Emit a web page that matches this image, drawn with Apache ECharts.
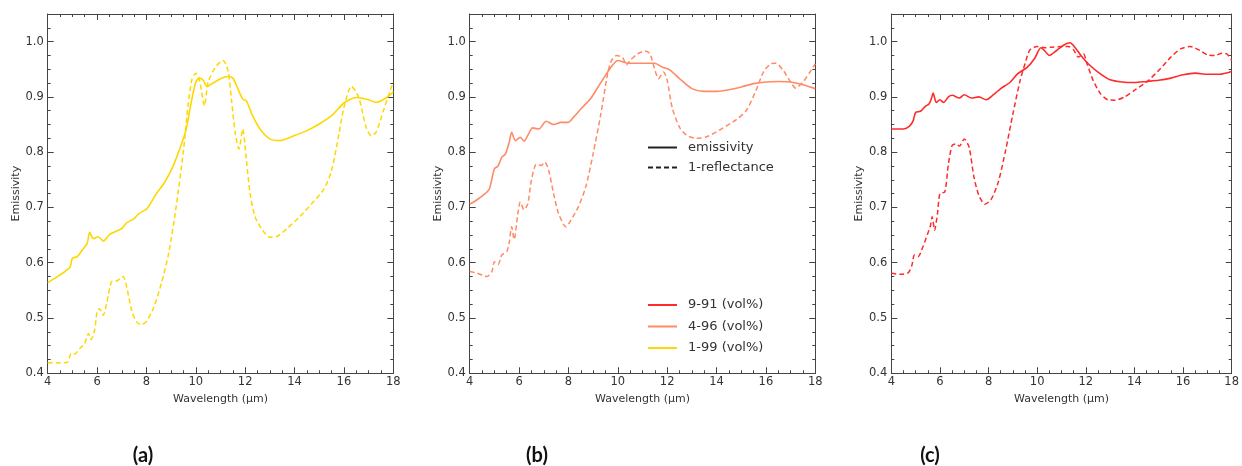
<!DOCTYPE html>
<html>
<head>
<meta charset="utf-8">
<script src="https://cdn.jsdelivr.net/npm/echarts@6/dist/echarts.min.js"></script>
<style>html,body{margin:0;padding:0;background:#fff}#c{width:1242px;height:466px}</style>
</head>
<body>
<div id="c"></div>
<script>
// ---------- DATA ----------
const panelLabels = ['(a)', '(b)', '(c)'];
const seriesNames = ['1-99 (vol%)', '4-96 (vol%)', '9-91 (vol%)'];
const legendStyleNames = ['emissivity', '1-reflectance'];
const xTickLabels = [4, 6, 8, 10, 12, 14, 16, 18];
const yTickLabels = [0.4, 0.5, 0.6, 0.7, 0.8, 0.9, 1.0];

// Panel (a) 1-99 vol%
const aEmisX = [4,4.5,4.9,5.0,5.2,5.4,5.6,5.7,5.85,6.05,6.25,6.5,7,7.2,7.5,7.7,8,8.2,8.4,8.7,9,9.3,9.6,9.8,10.0,10.15,10.3,10.45,10.7,11,11.3,11.5,11.7,11.9,12.05,12.3,12.6,13,13.4,14,14.5,15,15.5,16,16.5,17,17.3,17.7,18];
const aEmisY = [0.564,0.578,0.592,0.608,0.611,0.623,0.635,0.655,0.644,0.647,0.639,0.651,0.662,0.672,0.680,0.689,0.697,0.710,0.725,0.743,0.767,0.800,0.840,0.887,0.927,0.934,0.930,0.919,0.925,0.933,0.937,0.934,0.915,0.896,0.893,0.866,0.842,0.824,0.821,0.830,0.839,0.851,0.866,0.889,0.899,0.895,0.890,0.898,0.909];
const aReflX = [4,4.4,4.8,4.95,5.1,5.3,5.5,5.65,5.75,5.9,6.0,6.1,6.25,6.4,6.6,6.8,7.05,7.2,7.4,7.6,7.8,8.0,8.3,8.6,8.9,9.2,9.5,9.7,9.85,10.0,10.15,10.35,10.5,10.8,11.1,11.3,11.45,11.6,11.75,11.9,12.05,12.2,12.4,12.7,13.0,13.3,13.7,14.2,14.7,15.2,15.5,15.8,16.0,16.3,16.6,16.9,17.1,17.3,17.6,17.9,18];
const aReflY = [0.419,0.419,0.420,0.436,0.435,0.445,0.454,0.472,0.461,0.478,0.511,0.517,0.505,0.529,0.566,0.567,0.575,0.556,0.514,0.493,0.488,0.494,0.520,0.562,0.617,0.700,0.803,0.890,0.933,0.943,0.930,0.884,0.927,0.954,0.966,0.948,0.893,0.833,0.806,0.842,0.785,0.725,0.683,0.659,0.646,0.648,0.662,0.683,0.707,0.734,0.767,0.833,0.881,0.919,0.899,0.845,0.830,0.836,0.875,0.915,0.927];

// Panel (b) 4-96 vol%
const bEmisX = [4,4.3,4.6,4.8,5.0,5.15,5.3,5.45,5.6,5.7,5.85,6.05,6.2,6.35,6.55,6.8,7.1,7.4,7.7,8.0,8.2,8.5,8.9,9.2,9.5,9.8,10.0,10.4,11.0,11.5,11.8,12.1,12.5,13.0,13.5,14,14.5,15,15.5,16,16.5,17,17.5,18];
const bEmisY = [0.706,0.714,0.724,0.734,0.770,0.775,0.791,0.797,0.818,0.836,0.821,0.827,0.820,0.830,0.844,0.842,0.856,0.850,0.854,0.854,0.863,0.878,0.897,0.918,0.939,0.958,0.966,0.961,0.961,0.961,0.954,0.949,0.933,0.915,0.910,0.910,0.913,0.918,0.924,0.927,0.928,0.927,0.922,0.915];
const bReflX = [4,4.3,4.7,4.9,5.0,5.15,5.3,5.5,5.6,5.7,5.8,5.95,6.05,6.2,6.35,6.5,6.7,6.9,7.05,7.2,7.4,7.6,7.9,8.1,8.4,8.7,9.0,9.3,9.6,9.75,9.95,10.2,10.35,10.5,10.8,11.1,11.3,11.45,11.65,11.85,12.0,12.2,12.5,12.8,13.2,13.6,14.2,14.8,15.2,15.6,15.9,16.2,16.4,16.7,17.0,17.2,17.5,17.8,18];
const bReflY = [0.584,0.581,0.575,0.584,0.602,0.597,0.614,0.620,0.636,0.665,0.642,0.689,0.710,0.696,0.706,0.749,0.778,0.776,0.782,0.767,0.725,0.689,0.665,0.677,0.701,0.737,0.797,0.866,0.945,0.966,0.975,0.971,0.958,0.966,0.978,0.983,0.978,0.957,0.933,0.945,0.930,0.881,0.845,0.830,0.825,0.828,0.842,0.859,0.875,0.912,0.945,0.960,0.961,0.948,0.927,0.916,0.927,0.946,0.960];

// Panel (c) 9-91 vol%
const cEmisX = [4,4.5,4.75,4.9,5.0,5.2,5.4,5.55,5.65,5.72,5.85,6.0,6.15,6.35,6.5,6.8,7.0,7.3,7.6,7.9,8.2,8.5,8.9,9.2,9.6,9.9,10.15,10.3,10.5,10.8,11.1,11.35,11.55,11.8,12.1,12.5,13,13.5,14,14.5,15,15.5,16,16.5,17,17.5,18];
const cEmisY = [0.842,0.842,0.847,0.857,0.872,0.874,0.883,0.887,0.897,0.907,0.890,0.895,0.890,0.900,0.903,0.898,0.904,0.898,0.900,0.895,0.904,0.915,0.927,0.942,0.954,0.970,0.989,0.984,0.975,0.984,0.994,0.998,0.990,0.975,0.960,0.945,0.931,0.927,0.926,0.928,0.930,0.934,0.940,0.943,0.941,0.941,0.946];
const cReflX = [4,4.4,4.7,4.85,4.95,5.1,5.3,5.5,5.6,5.68,5.78,5.9,6.0,6.2,6.35,6.5,6.65,6.8,7.0,7.2,7.4,7.6,7.85,8.1,8.4,8.7,9.0,9.3,9.5,9.7,10.0,10.3,10.6,11.0,11.3,11.5,11.7,11.9,12.05,12.3,12.6,12.9,13.2,13.6,14.0,14.5,15,15.5,15.9,16.3,16.7,17.0,17.3,17.6,17.8,18];
const cReflY = [0.581,0.579,0.582,0.596,0.614,0.611,0.629,0.653,0.665,0.683,0.659,0.689,0.725,0.728,0.779,0.812,0.815,0.811,0.824,0.809,0.755,0.722,0.706,0.714,0.746,0.803,0.869,0.930,0.960,0.985,0.991,0.989,0.990,0.991,0.991,0.985,0.972,0.978,0.960,0.930,0.906,0.895,0.894,0.900,0.912,0.927,0.948,0.972,0.987,0.991,0.984,0.976,0.975,0.979,0.978,0.966];

const colors = ['#FFD700', '#FF8A66', '#FF2A2A'];

// ---------- BUILD ----------
const zip = (xs, ys) => xs.map((x, i) => [x, ys[i]]);
const panels = [
  {emis: zip(aEmisX, aEmisY), refl: zip(aReflX, aReflY)},
  {emis: zip(bEmisX, bEmisY), refl: zip(bReflX, bReflY)},
  {emis: zip(cEmisX, cEmisY), refl: zip(cReflX, cReflY)}
];
const gridLefts = [47.7, 469.7, 891.3];
const gridWidths = [345.6, 345.6, 346];
const FONT = 'DejaVu Sans';
const AX = '#444';

const grid = [], xAxis = [], yAxis = [], series = [];
panels.forEach((p, i) => {
  grid.push({left: gridLefts[i], top: 14, width: gridWidths[i], height: 359.3, containLabel: false});
  const xBase = {gridIndex: i, type: 'value', min: xTickLabels[0], max: xTickLabels[xTickLabels.length - 1], interval: 2,
    axisLine: {show: true, lineStyle: {color: AX, width: 1}},
    axisTick: {show: true, inside: true, length: 6, lineStyle: {color: AX}},
    minorTick: {show: true, splitNumber: 4, length: 3, lineStyle: {color: AX}},
    splitLine: {show: false}};
  xAxis.push(Object.assign({}, xBase, {position: 'bottom',
    name: 'Wavelength (µm)', nameLocation: 'middle', nameGap: 16,
    nameTextStyle: {fontFamily: FONT, fontSize: 11, color: '#333'},
    axisLabel: {show: true, margin: 3, fontFamily: FONT, fontSize: 11.5, color: '#333'}}));
  xAxis.push(Object.assign({}, xBase, {position: 'top', axisLabel: {show: false}}));
  const yMain = {gridIndex: i, type: 'value', min: yTickLabels[0], max: 1.05, interval: 0.1,
    axisLine: {show: true, lineStyle: {color: AX, width: 1}},
    axisTick: {show: true, inside: true, length: 6, lineStyle: {color: AX}},
    splitLine: {show: false}};
  const yMinor = {gridIndex: i, type: 'value', min: yTickLabels[0], max: 1.05, interval: 0.025,
    axisLine: {show: false},
    axisTick: {show: true, inside: true, length: 3, lineStyle: {color: AX}},
    axisLabel: {show: false}, splitLine: {show: false}};
  yAxis.push(Object.assign({}, yMain, {position: 'left',
    name: 'Emissivity', nameLocation: 'middle', nameGap: 26, nameRotate: 90,
    nameTextStyle: {fontFamily: FONT, fontSize: 11, color: '#333'},
    axisLabel: {show: true, margin: 4, fontFamily: FONT, fontSize: 11.5, color: '#333', showMaxLabel: false,
      formatter: v => v.toFixed(1)}}));
  yAxis.push(Object.assign({}, yMinor, {position: 'left'}));
  yAxis.push(Object.assign({}, yMain, {position: 'right', axisLabel: {show: false}}));
  yAxis.push(Object.assign({}, yMinor, {position: 'right'}));

  series.push({name: seriesNames[i], type: 'line', xAxisIndex: i * 2, yAxisIndex: i * 4,
    data: p.emis, showSymbol: false, symbol: 'none', smooth: 0.25, color: colors[i],
    lineStyle: {width: 1.6, color: colors[i]}, z: 3});
  series.push({name: seriesNames[i], type: 'line', xAxisIndex: i * 2, yAxisIndex: i * 4,
    data: p.refl, showSymbol: false, symbol: 'none', smooth: 0.25, color: colors[i],
    lineStyle: {width: 1.5, color: colors[i], type: [5, 3]}, z: 3});
});
// legend style entries (no data)
series.push({name: legendStyleNames[0], type: 'line', xAxisIndex: 2, yAxisIndex: 4, data: [], symbol: 'none',
  color: '#222', lineStyle: {width: 1.8, color: '#222'}});
series.push({name: legendStyleNames[1], type: 'line', xAxisIndex: 2, yAxisIndex: 4, data: [], symbol: 'none',
  color: '#222', lineStyle: {width: 1.5, color: '#222', type: [5, 3]}});

const legendText = {fontFamily: FONT, fontSize: 13, color: '#333', padding: [0, 0, 0, 6]};
const legendItem = {opacity: 0, color: 'transparent', borderWidth: 0};
const option = {
  animation: false,
  backgroundColor: '#fff',
  grid, xAxis, yAxis, series,
  legend: [
    {data: legendStyleNames, orient: 'vertical', left: 647, top: 141, padding: 0, itemWidth: 29, itemHeight: 14, itemGap: 7,
     selectedMode: false, textStyle: legendText, itemStyle: legendItem},
    {data: [seriesNames[2], seriesNames[1], seriesNames[0]], orient: 'vertical', left: 647, top: 298.5, padding: 0,
     itemWidth: 29, itemHeight: 14, itemGap: 8.5, selectedMode: false, textStyle: legendText, itemStyle: legendItem}
  ],
  graphic: panelLabels.map((t, i) => ({type: 'text', x: [143, 537, 930][i], y: 456,
    style: {text: t, font: 'bold 20px Lato', fill: '#111', textAlign: 'center', textVerticalAlign: 'middle'}}))
};
const chart = echarts.init(document.getElementById('c'), null, {renderer: 'canvas'});
chart.setOption(option);
</script>
</body>
</html>
